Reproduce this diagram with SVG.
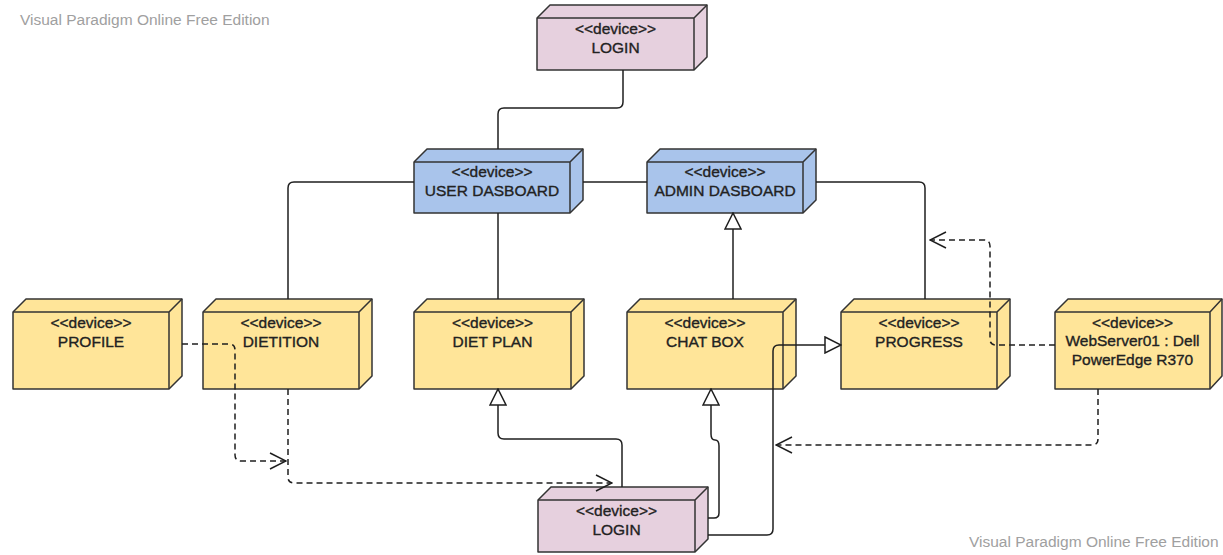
<svg xmlns="http://www.w3.org/2000/svg" width="1223" height="555" viewBox="0 0 1223 555">
  <style>
    .box { stroke: #333333; stroke-width: 1.5; stroke-linejoin: round; }
    .edge { fill: none; stroke: #333333; stroke-width: 1.5; }
    .pink { fill: #e6d0de; }
    .blue { fill: #a9c4eb; }
    .yellow { fill: #ffe599; }
    .link { fill: none; stroke: #1f1f1f; stroke-width: 1.5; stroke-linejoin: round; }
    .dash { stroke-dasharray: 6 4; }
    .st { font-family: "Liberation Sans", Arial, sans-serif; font-size: 15.5px; fill: #222222; stroke: #222222; stroke-width: 0.35; text-anchor: middle; }
    .wm { font-family: "Liberation Sans", Arial, sans-serif; font-size: 15.5px; fill: #a0a0a0; }
  </style>
  <defs>
    <marker id="tri" markerUnits="userSpaceOnUse" markerWidth="18" markerHeight="18" refX="16" refY="8" orient="auto" viewBox="-1 -1 18 18">
      <path d="M0,0 L16,8 L0,16 Z" fill="#ffffff" stroke="#1f1f1f" stroke-width="1.5" stroke-dasharray="none"/>
    </marker>
    <marker id="open" markerUnits="userSpaceOnUse" markerWidth="18" markerHeight="18" refX="16" refY="8" orient="auto" viewBox="-1 -1 18 18">
      <path d="M0,0 L16,8 L0,16" fill="none" stroke="#1f1f1f" stroke-width="1.5" stroke-dasharray="none"/>
    </marker>
  </defs>

  <rect x="0" y="0" width="1223" height="555" fill="#ffffff"/>

  <text class="wm" x="20" y="25">Visual Paradigm Online Free Edition</text>
  <text class="wm" x="969" y="547">Visual Paradigm Online Free Edition</text>

  <!-- 3D device boxes: outline, then the front-face edges -->
  <g id="login-top">
    <path class="box pink" d="M537 18 L550 5 L707 5 L707 57 L694 70 L537 70 Z"/>
    <path class="edge" d="M537 18 L694 18 L707 5 M694 18 L694 70"/>
    <text class="st" x="615.5" y="34">&lt;&lt;device&gt;&gt;</text>
    <text class="st" x="615.5" y="53">LOGIN</text>
  </g>

  <g id="user-dashboard">
    <path class="box blue" d="M414 162 L427 149 L583 149 L583 200 L570 213 L414 213 Z"/>
    <path class="edge" d="M414 162 L570 162 L583 149 M570 162 L570 213"/>
    <text class="st" x="492" y="177">&lt;&lt;device&gt;&gt;</text>
    <text class="st" x="492" y="196">USER DASBOARD</text>
  </g>

  <g id="admin-dashboard">
    <path class="box blue" d="M647 162 L660 149 L816 149 L816 200 L803 213 L647 213 Z"/>
    <path class="edge" d="M647 162 L803 162 L816 149 M803 162 L803 213"/>
    <text class="st" x="725" y="177">&lt;&lt;device&gt;&gt;</text>
    <text class="st" x="725" y="196">ADMIN DASBOARD</text>
  </g>

  <g id="profile">
    <path class="box yellow" d="M13 312 L26 299 L182 299 L182 376 L169 389 L13 389 Z"/>
    <path class="edge" d="M13 312 L169 312 L182 299 M169 312 L169 389"/>
    <text class="st" x="91" y="328">&lt;&lt;device&gt;&gt;</text>
    <text class="st" x="91" y="347">PROFILE</text>
  </g>

  <g id="dietition">
    <path class="box yellow" d="M203 312 L216 299 L372 299 L372 376 L359 389 L203 389 Z"/>
    <path class="edge" d="M203 312 L359 312 L372 299 M359 312 L359 389"/>
    <text class="st" x="281" y="328">&lt;&lt;device&gt;&gt;</text>
    <text class="st" x="281" y="347">DIETITION</text>
  </g>

  <g id="diet-plan">
    <path class="box yellow" d="M414 312 L427 299 L584 299 L584 376 L571 389 L414 389 Z"/>
    <path class="edge" d="M414 312 L571 312 L584 299 M571 312 L571 389"/>
    <text class="st" x="492.5" y="328">&lt;&lt;device&gt;&gt;</text>
    <text class="st" x="492.5" y="347">DIET PLAN</text>
  </g>

  <g id="chat-box">
    <path class="box yellow" d="M627 312 L640 299 L796 299 L796 376 L783 389 L627 389 Z"/>
    <path class="edge" d="M627 312 L783 312 L796 299 M783 312 L783 389"/>
    <text class="st" x="705" y="328">&lt;&lt;device&gt;&gt;</text>
    <text class="st" x="705" y="347">CHAT BOX</text>
  </g>

  <g id="progress">
    <path class="box yellow" d="M841 312 L854 299 L1010 299 L1010 376 L997 389 L841 389 Z"/>
    <path class="edge" d="M841 312 L997 312 L1010 299 M997 312 L997 389"/>
    <text class="st" x="919" y="328">&lt;&lt;device&gt;&gt;</text>
    <text class="st" x="919" y="347">PROGRESS</text>
  </g>

  <g id="webserver">
    <path class="box yellow" d="M1055 312 L1068 299 L1222 299 L1222 376 L1210 389 L1055 389 Z"/>
    <path class="edge" d="M1055 312 L1210 312 L1222 299 M1210 312 L1210 389"/>
    <text class="st" x="1132.5" y="328">&lt;&lt;device&gt;&gt;</text>
    <text class="st" x="1132.5" y="346">WebServer01 : Dell</text>
    <text class="st" x="1132.5" y="365">PowerEdge R370</text>
  </g>

  <g id="login-bottom">
    <path class="box pink" d="M538 500 L551 487 L708 487 L708 539 L695 552 L538 552 Z"/>
    <path class="edge" d="M538 500 L695 500 L708 487 M695 500 L695 552"/>
    <text class="st" x="616.5" y="516">&lt;&lt;device&gt;&gt;</text>
    <text class="st" x="616.5" y="535">LOGIN</text>
  </g>

  <!-- connectors -->
  <g id="connectors">
    <path class="link" d="M623 70 V102 Q623 108 617 108 H504 Q498 108 498 114 V149"/>
    <path class="link" d="M414 182 H294 Q288 182 288 188 V299"/>
    <path class="link" d="M583 182 H647"/>
    <path class="link" d="M816 182 H919 Q925 182 925 188 V299"/>
    <path class="link" d="M498 213 V299"/>
    <path class="link" d="M733 299 V213" marker-end="url(#tri)"/>
    <path class="link dash" d="M182 344 H229 Q235 344 235 350 V455 Q235 461 241 461 H286" marker-end="url(#open)"/>
    <path class="link dash" d="M288 389 V477 Q288 483 294 483 H612" marker-end="url(#open)"/>
    <path class="link" d="M622 487 V445 Q622 439 616 439 H504 Q498 439 498 433 V389" marker-end="url(#tri)"/>
    <path class="link" d="M708 518 H714 Q719 518 719 513 V446 Q719 440 715 440 Q711 440 711 434 V389" marker-end="url(#tri)"/>
    <path class="link" d="M708 535 H767 Q773 535 773 529 V351 Q773 345 779 345 H841" marker-end="url(#tri)"/>
    <path class="link dash" d="M1055 345 H996 Q990 345 990 339 V246 Q990 240 984 240 H930" marker-end="url(#open)"/>
    <path class="link dash" d="M1098 389 V439 Q1098 445 1092 445 H776" marker-end="url(#open)"/>
  </g>
</svg>
